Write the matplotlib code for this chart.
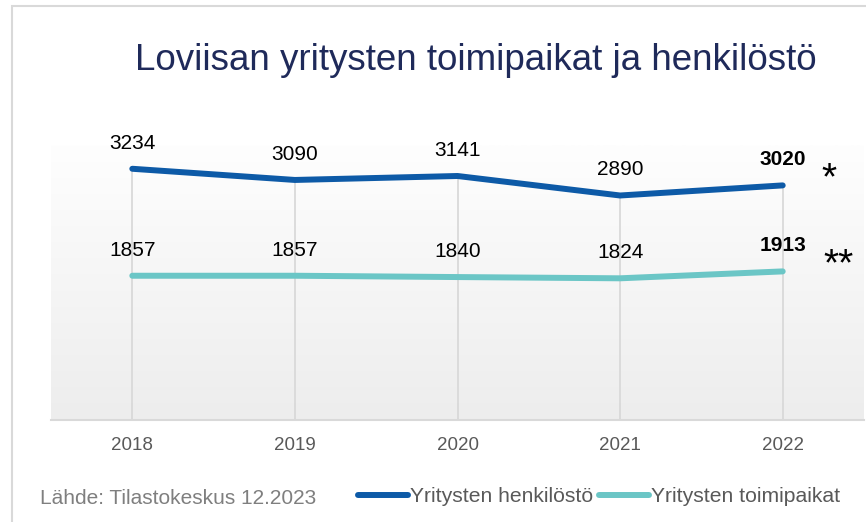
import numpy as np
import matplotlib
matplotlib.use("Agg")
import matplotlib.pyplot as plt
from matplotlib.patches import Rectangle

plt.rcParams['font.family'] = ['Liberation Sans', 'DejaVu Sans']

years = ["2018", "2019", "2020", "2021", "2022"]
henkilosto = [3234, 3090, 3141, 2890, 3020]
toimipaikat = [1857, 1857, 1840, 1824, 1913]
series_names = ["Yritysten henkilöstö", "Yritysten toimipaikat"]
title = "Loviisan yritysten toimipaikat ja henkilöstö"
source = "Lähde: Tilastokeskus 12.2023"
marks = ["*", "**"]

W, H = 866, 522
fig = plt.figure(figsize=(W / 100, H / 100), dpi=100)
fig.patch.set_facecolor("white")

# outer frame (right and bottom edges fall outside the picture)
fig.patches.append(Rectangle((12 / W, -0.1), 1.0, 1.1 - 6 / H, transform=fig.transFigure,
                             fill=False, edgecolor="#d9d9d9", linewidth=1.5))

ax = fig.add_axes([51 / W, 102 / H, (864 - 51) / W, 275 / H])
x = np.arange(len(years))
ymax = 3540
ax.set_xlim(-0.5, len(years) - 0.5)
ax.set_ylim(0, ymax)

# gradient background
grad = np.linspace(0, 1, 256).reshape(-1, 1)
top = np.array([0xfe, 0xfe, 0xfe]) / 255
bot = np.array([0xed, 0xed, 0xed]) / 255
img = top + (bot - top) * grad[..., None]
ax.imshow(img.reshape(256, 1, 3), extent=[-0.5, len(years) - 0.5, 0, ymax],
          aspect="auto", origin="upper", zorder=0)

# drop lines
ax.vlines(x, 0, henkilosto, colors="#d9d9d9", linewidth=1.3, zorder=1)

c1, c2 = "#0D5AA7", "#6BC6C6"
ax.plot(x, henkilosto, color=c1, linewidth=4.3, solid_capstyle="round", zorder=3,
        label=series_names[0])
ax.plot(x, toimipaikat, color=c2, linewidth=4.3, solid_capstyle="round", zorder=3,
        label=series_names[1])

for i, (a, b) in enumerate(zip(henkilosto, toimipaikat)):
    w = "bold" if i == len(years) - 1 else "normal"
    ax.annotate(str(a), (x[i], a), xytext=(0, 18.5), textcoords="offset points",
                ha="center", va="center", fontsize=15, color="#000000", fontweight=w)
    ax.annotate(str(b), (x[i], b), xytext=(0, 18.5), textcoords="offset points",
                ha="center", va="center", fontsize=15, color="#000000", fontweight=w)

ax.annotate(marks[0], (x[-1], henkilosto[-1]), xytext=(33, -3), textcoords="offset points",
            ha="center", va="baseline", fontsize=28, color="#000000")
ax.annotate(marks[1], (x[-1], toimipaikat[-1]), xytext=(40, -3), textcoords="offset points",
            ha="center", va="baseline", fontsize=28, color="#000000")

for s in ["top", "left", "right"]:
    ax.spines[s].set_visible(False)
ax.spines["bottom"].set_color("#d9d9d9")
ax.spines["bottom"].set_linewidth(1.5)
ax.set_yticks([])
ax.set_xticks(x)
ax.set_xticklabels(years, fontsize=13.5, color="#595959")
ax.tick_params(axis="x", length=0, pad=12)

fig.text(476 / W, 1 - 60 / H, title, ha="center", va="center", fontsize=26.5, color="#1F2A5A")
fig.text(40 / W, 1 - 498 / H, source, ha="left", va="center", fontsize=15, color="#7F7F7F")

leg = fig.legend(loc="center left", bbox_to_anchor=(358 / W, 1 - 497 / H), ncol=2,
                 frameon=False, fontsize=15.2, handlelength=2.35, handletextpad=0.1,
                 columnspacing=0.3, labelcolor="#595959", borderaxespad=0, borderpad=0)

fig.savefig("out.png", dpi=100)
